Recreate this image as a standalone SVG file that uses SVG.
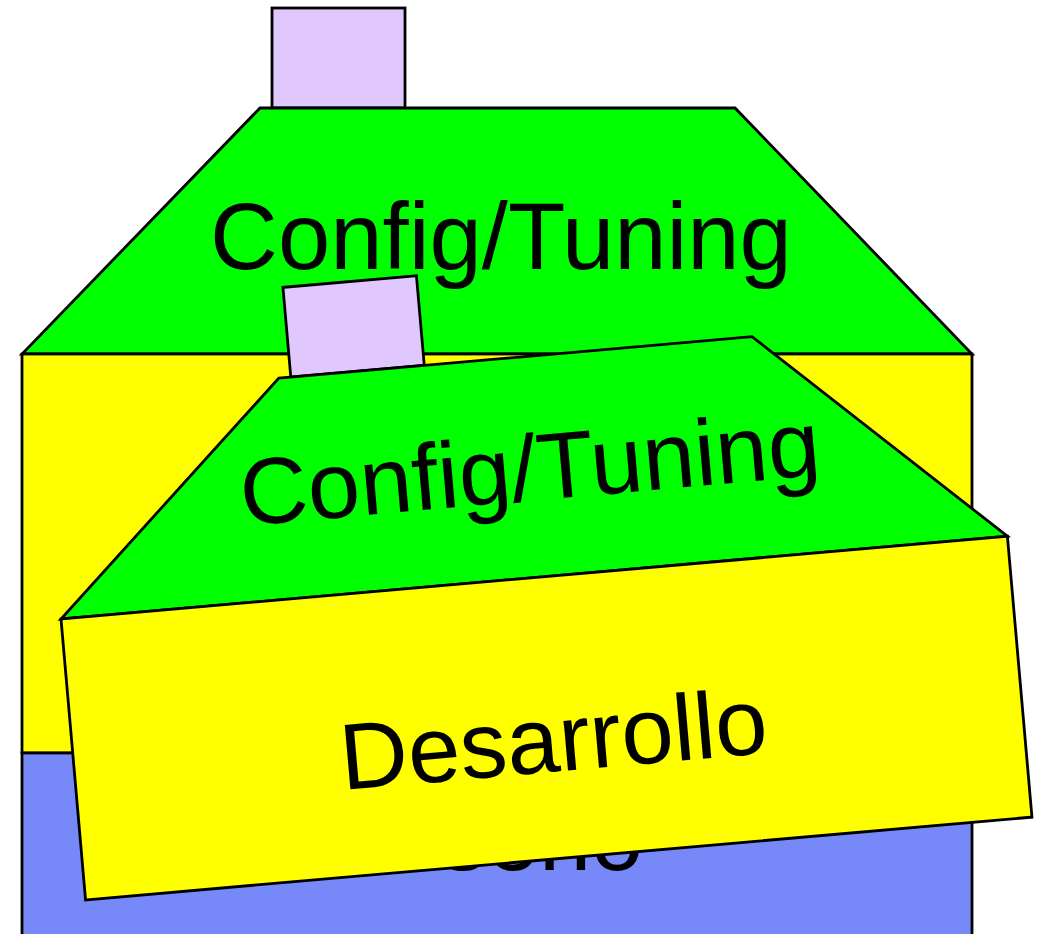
<svg xmlns="http://www.w3.org/2000/svg" width="1039" height="934" viewBox="0 0 1039 934">
  <style>
    .s { stroke: #000; stroke-width: 2.8; stroke-linejoin: miter; }
    .chim { fill: #e0c8ff; }
    .roof { fill: #00ff00; }
    .body { fill: #ffff00; }
    .base { fill: #7788f8; }
    .t { font-family: "Liberation Sans", Arial, sans-serif; font-size: 94px; fill: #000; text-anchor: middle; }
  </style>
  <rect width="1039" height="934" fill="#ffffff"/>
  <g id="back-house" transform="translate(22,354)">
    <g id="back-chimney"><rect class="s chim" x="250" y="-346" width="133" height="100"/></g>
    <g id="back-roof">
      <polygon class="s roof" points="238,-246 713,-246 950,0 0,0"/>
      <text class="t" x="479" y="-85">Config/Tuning</text>
    </g>
    <g id="back-body"><rect class="s body" x="0" y="0" width="950" height="399"/></g>
    <g id="back-base">
      <rect class="s base" x="0" y="399" width="950" height="420"/>
      <text class="t" x="475" y="516">Diseño</text>
    </g>
  </g>
  <g id="front-house" transform="translate(61,619) rotate(-5)">
    <g id="front-chimney"><rect class="s chim" x="250" y="-311" width="134" height="90"/></g>
    <g id="front-roof">
      <polygon class="s roof" points="238,-221 713,-221 950,0 0,0"/>
      <text class="t" x="480" y="-77">Config/Tuning</text>
    </g>
    <g id="front-body">
      <rect class="s body" x="0" y="0" width="950" height="282"/>
      <text class="t" x="480" y="195">Desarrollo</text>
    </g>
  </g>
  <g id="connectors"/>
</svg>
